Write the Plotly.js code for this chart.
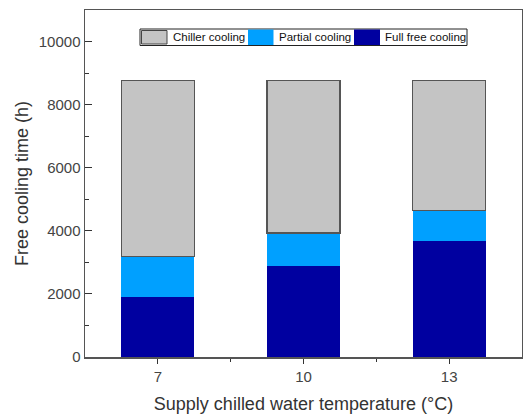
<!DOCTYPE html>
<html><head><meta charset="utf-8">
<script src="https://cdn.plot.ly/plotly-3.0.1.min.js"></script>
<style>html,body{margin:0;padding:0;background:#fff}#chart{width:523px;height:414px}</style>
</head><body><div id="chart"></div>
<script>
const temperatures = [7, 10, 13];
const seriesNames = ['Full free cooling', 'Partial cooling', 'Chiller cooling'];
const fullFree = [1890, 2900, 3680];
const partial = [1300, 1030, 960];
const chiller = [5570, 4830, 4120];
const yTicks = [0, 2000, 4000, 6000, 8000, 10000];

const colors = {full:'#0000a0', partial:'#00a0ff', chiller:'#c4c4c4'};
const font = 'Liberation Sans, Arial, sans-serif';
const traces = [
  {type:'bar', name:seriesNames[0], x:temperatures, y:fullFree, width:1.5,
   marker:{color:colors.full, line:{color:colors.full, width:0}}},
  {type:'bar', name:seriesNames[1], x:temperatures, y:partial, width:1.5,
   marker:{color:colors.partial, line:{color:colors.partial, width:0}}},
  {type:'bar', name:seriesNames[2], x:temperatures, y:chiller, width:1.5,
   marker:{color:colors.chiller, line:{color:'#555555', width:1.2}}}
];

// custom compact legend (paper coordinates derived from pixel layout of plot area)
const L = 85, W = 437, T = 10, H = 347;
const px = v => (v - L) / W;
const py = v => (T + H - v) / H;
const shapes = [
  {type:'rect', xref:'paper', yref:'paper', x0:px(140), x1:px(467), y0:py(45.5), y1:py(29), line:{color:'#222', width:1}, fillcolor:'#fff', layer:'above'},
  {type:'rect', xref:'paper', yref:'paper', x0:px(141.5), x1:px(167), y0:py(44), y1:py(30.5), line:{color:'#444', width:1}, fillcolor:colors.chiller, layer:'above'},
  {type:'rect', xref:'paper', yref:'paper', x0:px(248), x1:px(273.5), y0:py(45), y1:py(29.5), line:{width:0}, fillcolor:colors.partial, layer:'above'},
  {type:'rect', xref:'paper', yref:'paper', x0:px(354), x1:px(380), y0:py(45), y1:py(29.5), line:{width:0}, fillcolor:colors.full, layer:'above'}
];
const legendText = [[171, seriesNames[2]], [277, seriesNames[1]], [383, seriesNames[0]]];
const annotations = legendText.map(([x, t]) => ({
  xref:'paper', yref:'paper', x:px(x), y:py(37), xanchor:'left', yanchor:'middle',
  text:t, showarrow:false, font:{family:font, size:11.5, color:'#111'}
}));

const layout = {
  width:523, height:414,
  margin:{l:85, r:1, t:10, b:57},
  barmode:'stack',
  paper_bgcolor:'#fff', plot_bgcolor:'#fff',
  font:{family:font, color:'#333', size:15},
  showlegend:false,
  shapes, annotations,
  xaxis:{range:[5.5,14.5], tickmode:'array', tickvals:temperatures, ticktext:temperatures.map(String),
    ticks:'outside', ticklen:5, tickwidth:1, tickcolor:'#333',
    minor:{tickvals:[8.5,11.5], ticks:'outside', ticklen:3, tickcolor:'#333'},
    showline:true, linecolor:'#555', linewidth:1.5, mirror:true, showgrid:false, zeroline:false,
    tickfont:{size:15, color:'#444'},
    title:{text:'Supply chilled water temperature (°C)', font:{size:18, color:'#333'}, standoff:14}},
  yaxis:{range:[0,11000], tickmode:'array', tickvals:yTicks, ticktext:yTicks.map(String),
    ticks:'inside', ticklen:7, tickwidth:1, tickcolor:'#333',
    minor:{dtick:1000, tick0:0, ticks:'inside', ticklen:4, tickcolor:'#333'},
    showline:true, linecolor:'#555', linewidth:1.5, mirror:true, showgrid:false, zeroline:false,
    tickfont:{size:15, color:'#444'},
    title:{text:'Free cooling time (h)', font:{size:18, color:'#333'}, standoff:5}}
};
Plotly.newPlot('chart', traces, layout, {displayModeBar:false, staticPlot:true});
</script></body></html>
